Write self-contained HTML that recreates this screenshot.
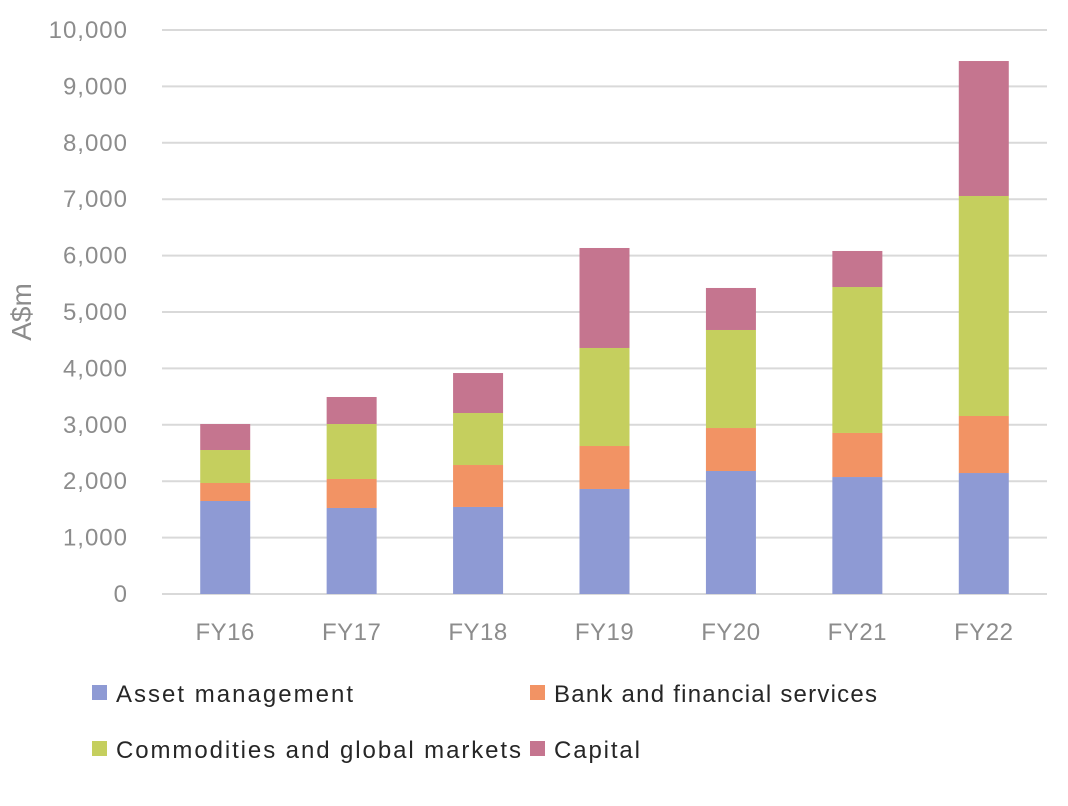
<!DOCTYPE html>
<html><head><meta charset="utf-8"><style>
body{margin:0;background:#fff;width:1068px;height:801px;overflow:hidden;font-family:"Liberation Sans",sans-serif}
</style></head><body>
<svg id="chart" width="1068" height="801"></svg>
<script>
const categories=["FY16","FY17","FY18","FY19","FY20","FY21","FY22"];
const assetMgmt=[1649,1525,1543,1862,2181,2074,2145];
const bankFin=[319,514,744,762,762,781,1011];
const commodities=[585,975,922,1738,1738,2588,3901];
const capital=[461,479,709,1773,745,639,2393];
const yTicks=[0,1000,2000,3000,4000,5000,6000,7000,8000,9000,10000];
const seriesNames=["Asset management","Bank and financial services","Commodities and global markets","Capital"];
const colors=["#8e9ad4","#f29364","#c5cf5e","#c5758f"];
const series=[assetMgmt,bankFin,commodities,capital];
const svg=document.getElementById('chart');
const NS="http://www.w3.org/2000/svg";
const x0=162,x1=1047,yBase=594,yTop=30,yMax=10000;
const y=v=>yBase-(v/yMax)*(yBase-yTop);
const band=(x1-x0)/categories.length;
const xc=i=>x0+band*(i+0.5);
function mk(t,a){const e=document.createElementNS(NS,t);for(const k in a)e.setAttribute(k,a[k]);svg.appendChild(e);return e;}
yTicks.forEach(t=>{
 const l=mk('line',{x1:x0,x2:x1,y1:y(t),y2:y(t),stroke:'#d9d9d9','stroke-width':2});
 
 
 const tx=mk('text',{x:128,y:y(t)+8,'text-anchor':'end','font-size':24,'letter-spacing':1,fill:'#8c8c8c'});
 tx.textContent=t.toLocaleString('en-US');
 
 
});
const yt=mk('text',{x:0,y:0,'font-size':28,fill:'#8c8c8c','text-anchor':'middle',transform:'translate(31,312) rotate(-90)'});
yt.textContent='A$m';


const bw=50;
categories.forEach((c,i)=>{
 let cum=0;
 series.forEach((s,k)=>{
  const r=mk('rect',{x:xc(i)-bw/2,y:y(cum+s[i]),width:bw,height:y(cum)-y(cum+s[i]),fill:colors[k]});
  
  
  cum+=s[i];
 });
 const t=mk('text',{x:xc(i),y:640,'text-anchor':'middle','font-size':24,'letter-spacing':0.5,fill:'#8c8c8c'});
 t.textContent=c;
 
 
});
const lp=[[92,693],[530,693],[92,749],[530,749]];
const lw=[237,323,405,86];
seriesNames.forEach((n,k)=>{
 const r=mk('rect',{x:lp[k][0],y:lp[k][1]-8,width:15,height:15,fill:colors[k]});
 
 
 const t=mk('text',{x:lp[k][0]+24,y:lp[k][1]+9,'font-size':24,textLength:lw[k],lengthAdjust:'spacing',fill:'#262626'});
 t.textContent=n;
 
 
});
</script>
</body></html>
